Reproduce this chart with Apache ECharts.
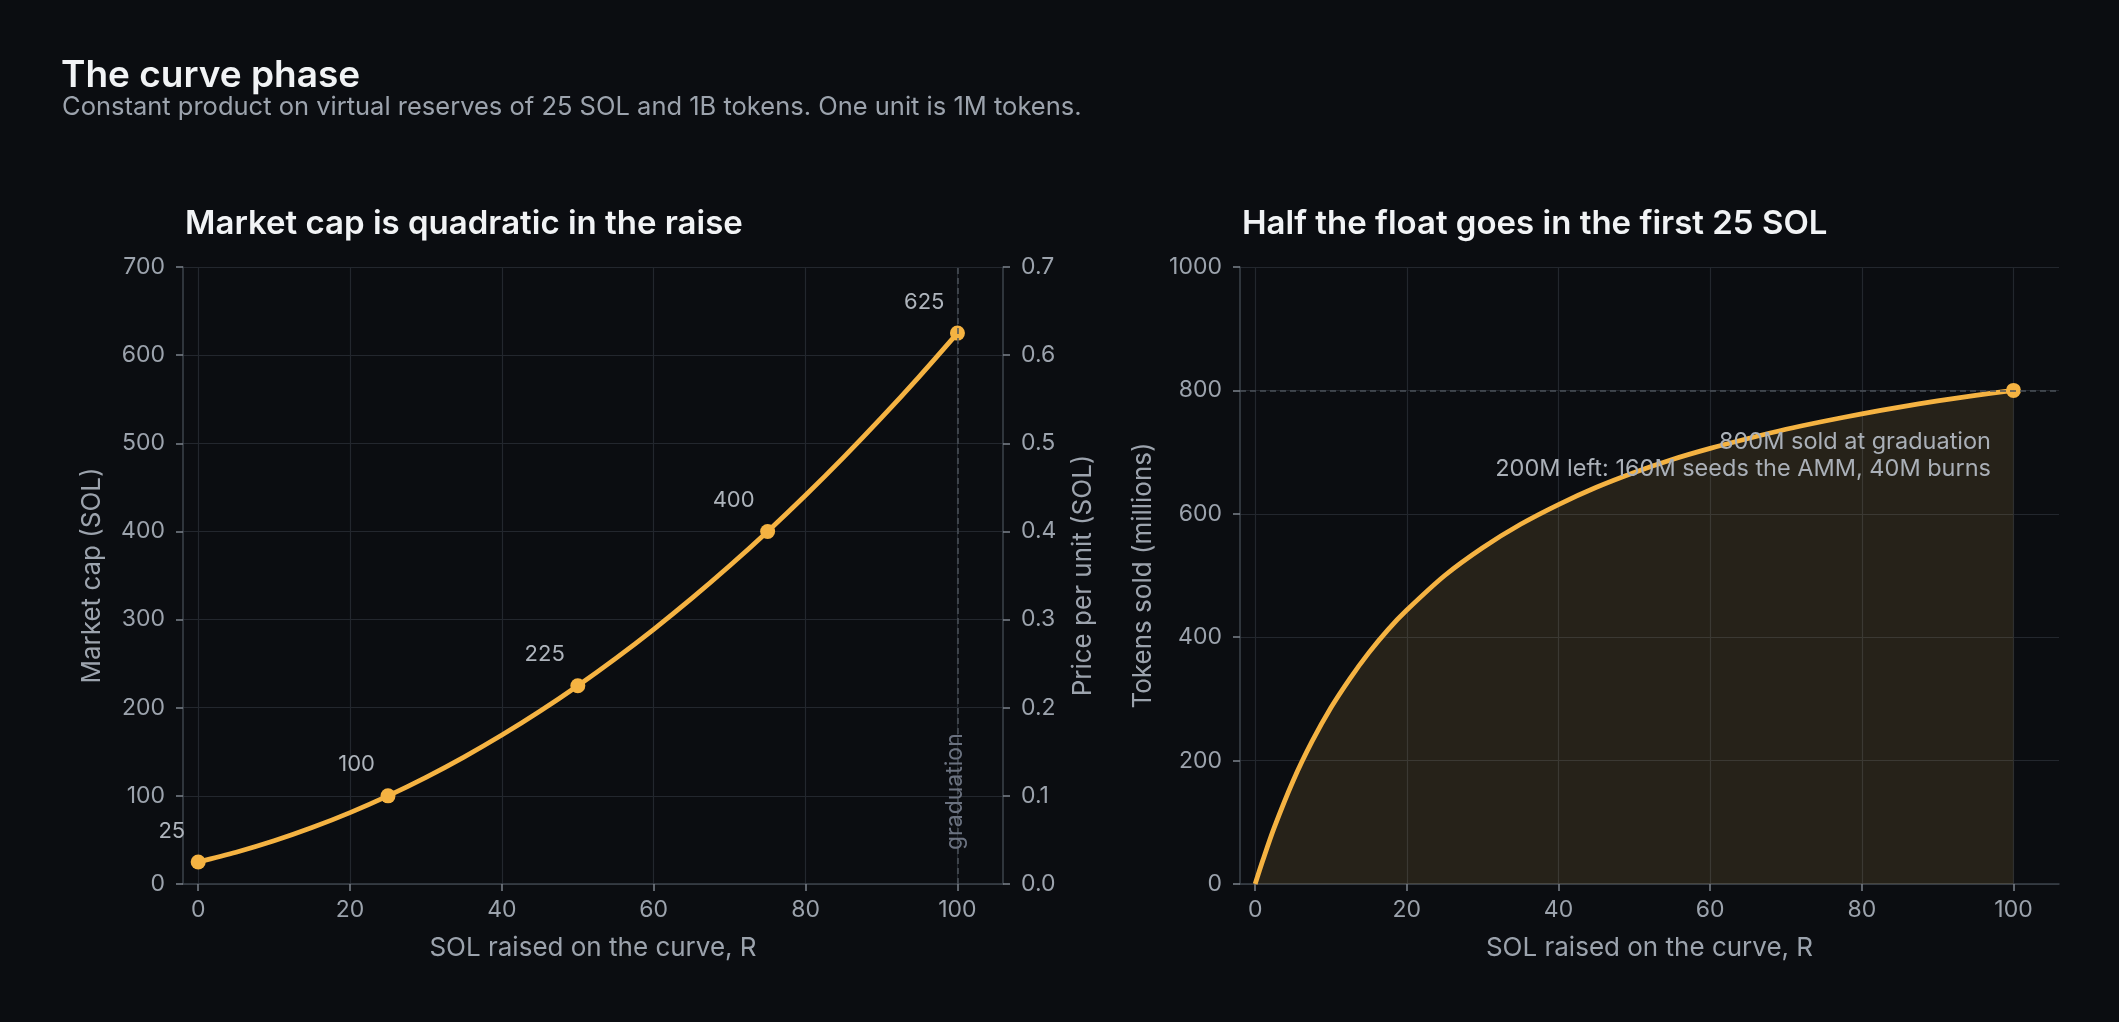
<!DOCTYPE html>
<html>
<head>
<meta charset="utf-8">
<title>The curve phase</title>
<script src="https://cdn.jsdelivr.net/npm/echarts@6.0.0/dist/echarts.min.js"></script>
<style>
    html, body { margin: 0; padding: 0; background: #0b0d11; }
    #chart { width: 2119px; height: 1022px; }
</style>
</head>
<body>
<div id="chart"></div>
<script>
// market cap along the curve (SOL raised -> market cap in SOL)
var capR = [0, 5, 10, 15, 20, 25, 30, 35, 40, 45, 50, 55, 60, 65, 70, 75, 80, 85, 90, 95, 100];
var capValues = [25, 36, 49, 64, 81, 100, 121, 144, 169, 196, 225, 256, 289, 324, 361, 400, 441, 484, 529, 576, 625];
// labelled points on the left panel
var capMarkR = [0, 25, 50, 75, 100];
var capMarkValues = [25, 100, 225, 400, 625];

// tokens sold (millions) against SOL raised
var soldR = [0, 1, 2.5, 5, 7.5, 10, 12.5, 15, 17.5, 20, 25, 30, 35, 40, 45, 50, 55, 60, 65, 70, 75, 80, 85, 90, 95, 100];
var soldValues = [0, 38, 91, 167, 231, 286, 333, 375, 412, 444, 500, 545, 583, 615, 643, 667, 688, 706, 722, 737, 750, 762, 773, 783, 792, 800];

var xTicks = [0, 20, 40, 60, 80, 100];
var graduationR = 100;
var graduationSold = 800;
var noteLines = ["800M sold at graduation", "200M left: 160M seeds the AMM, 40M burns"];

var font = "Inter, 'Noto Sans', sans-serif";
var orange = "#f5b342";
var muted = "#9ca3ad";
var spine = "#3d434b";
var gridColor = "#23272e";
var tickColor = "#7c838c";

function pairs(xs, ys) {
    var out = [];
    for (var i = 0; i < xs.length; i++) {
        out.push([xs[i], ys[i]]);
    }
    return out;
}

function xAxisFor(gridIndex) {
    return {
        type: "value",
        gridIndex: gridIndex,
        min: -2,
        max: 106,
        name: "SOL raised on the curve, R",
        nameLocation: "middle",
        nameGap: 51,
        nameTextStyle: { color: muted, fontSize: 26, fontFamily: font },
        axisLine: { show: true, onZero: false, lineStyle: { color: spine, width: 1.5 } },
        axisTick: { show: true, length: 7, customValues: xTicks, lineStyle: { color: tickColor, width: 1.5 } },
        axisLabel: { color: muted, fontSize: 23, fontFamily: font, margin: 15, customValues: xTicks },
        splitLine: { show: true, lineStyle: { color: gridColor, width: 1.2 } }
    };
}

function yAxisFor(gridIndex, opts) {
    var axis = {
        type: "value",
        gridIndex: gridIndex,
        position: opts.position,
        min: opts.min,
        max: opts.max,
        interval: opts.interval,
        name: opts.name,
        nameLocation: "middle",
        nameRotate: 90,
        nameGap: opts.nameGap,
        nameTextStyle: { color: muted, fontSize: 26, fontFamily: font },
        axisLine: { show: true, onZero: false, lineStyle: { color: spine, width: 1.5 } },
        axisTick: { show: true, length: 7, lineStyle: { color: tickColor, width: 1.5 } },
        axisLabel: { color: muted, fontSize: 23, fontFamily: font, margin: 18, formatter: opts.formatter },
        splitLine: { show: opts.split, lineStyle: { color: gridColor, width: 1.2 } }
    };
    return axis;
}

function initChart(id) {
    var chart = echarts.init(document.getElementById(id), null, { renderer: "canvas" });

    var option = {
        backgroundColor: "#0b0d11",
        animation: false,
        title: [
            { text: "The curve phase", left: 56, top: 52,
              textStyle: { color: "#f1f3f5", fontSize: 37, fontWeight: 600, fontFamily: font } },
            { text: "Constant product on virtual reserves of 25 SOL and 1B tokens. One unit is 1M tokens.", left: 57, top: 89,
              textStyle: { color: muted, fontSize: 25.5, fontWeight: 400, fontFamily: font } },
            { text: "Market cap is quadratic in the raise", left: 180, top: 203,
              textStyle: { color: "#f1f3f5", fontSize: 33, fontWeight: 600, fontFamily: font } },
            { text: "Half the float goes in the first 25 SOL", left: 1237, top: 203,
              textStyle: { color: "#f1f3f5", fontSize: 33, fontWeight: 600, fontFamily: font } }
        ],
        grid: [
            { left: 183, right: 1116, top: 267, height: 617 },
            { left: 1240, right: 60, top: 267, height: 617 }
        ],
        xAxis: [xAxisFor(0), xAxisFor(1)],
        yAxis: [
            yAxisFor(0, { position: "left", min: 0, max: 700, interval: 100, name: "Market cap (SOL)", nameGap: 78, split: true,
                formatter: function (v) { return String(v); } }),
            yAxisFor(0, { position: "right", min: 0, max: 0.7, interval: 0.1, name: "Price per unit (SOL)", nameGap: 67, split: false,
                formatter: function (v) { return v.toFixed(1); } }),
            yAxisFor(1, { position: "left", min: 0, max: 1000, interval: 200, name: "Tokens sold (millions)", nameGap: 84, split: true,
                formatter: function (v) { return String(v); } })
        ],
        series: [
            {
                name: "market cap",
                type: "line",
                xAxisIndex: 0,
                yAxisIndex: 0,
                data: pairs(capR, capValues),
                smooth: 0.3,
                showSymbol: false,
                lineStyle: { color: orange, width: 4.8 },
                markLine: {
                    silent: true,
                    symbol: "none",
                    lineStyle: { color: "#4b515a", width: 1.5, type: [6, 4] },
                    label: {
                        show: true,
                        formatter: "graduation",
                        position: "insideStartTop",
                        distance: [34, -9],
                        color: "#6b7280",
                        fontSize: 23,
                        fontFamily: font
                    },
                    data: [{ xAxis: graduationR }]
                },
                z: 3
            },
            {
                name: "cap points",
                type: "scatter",
                xAxisIndex: 0,
                yAxisIndex: 0,
                data: pairs(capMarkR, capMarkValues),
                symbolSize: 15,
                itemStyle: { color: orange, opacity: 1 },
                label: {
                    show: true,
                    position: "inside",
                    align: "right",
                    verticalAlign: "middle",
                    offset: [-13, -31],
                    color: "#aeb4bc",
                    fontSize: 22,
                    fontFamily: font,
                    formatter: function (p) { return String(p.value[1]); }
                },
                z: 4
            },
            {
                name: "tokens sold",
                type: "line",
                xAxisIndex: 1,
                yAxisIndex: 2,
                data: pairs(soldR, soldValues),
                smooth: 0.3,
                showSymbol: false,
                lineStyle: { color: orange, width: 4.8 },
                areaStyle: { color: "rgba(236,188,92,0.12)", opacity: 1 },
                markLine: {
                    silent: true,
                    symbol: "none",
                    lineStyle: { color: "#4b515a", width: 1.5, type: [6, 4] },
                    label: { show: false },
                    data: [{ yAxis: graduationSold }]
                },
                z: 3
            },
            {
                name: "graduation point",
                type: "scatter",
                xAxisIndex: 1,
                yAxisIndex: 2,
                data: [[graduationR, graduationSold]],
                symbolSize: 15,
                itemStyle: { color: orange, opacity: 1 },
                z: 4
            }
        ],
        graphic: [
            {
                type: "text",
                right: 128,
                top: 428,
                z: 10,
                style: {
                    text: noteLines.join("\n"),
                    textAlign: "right",
                    fill: "#aab0b8",
                    font: "23.5px " + font,
                    lineHeight: 27
                }
            }
        ]
    };
    chart.setOption(option);
}

initChart("chart");
</script>
</body>
</html>
